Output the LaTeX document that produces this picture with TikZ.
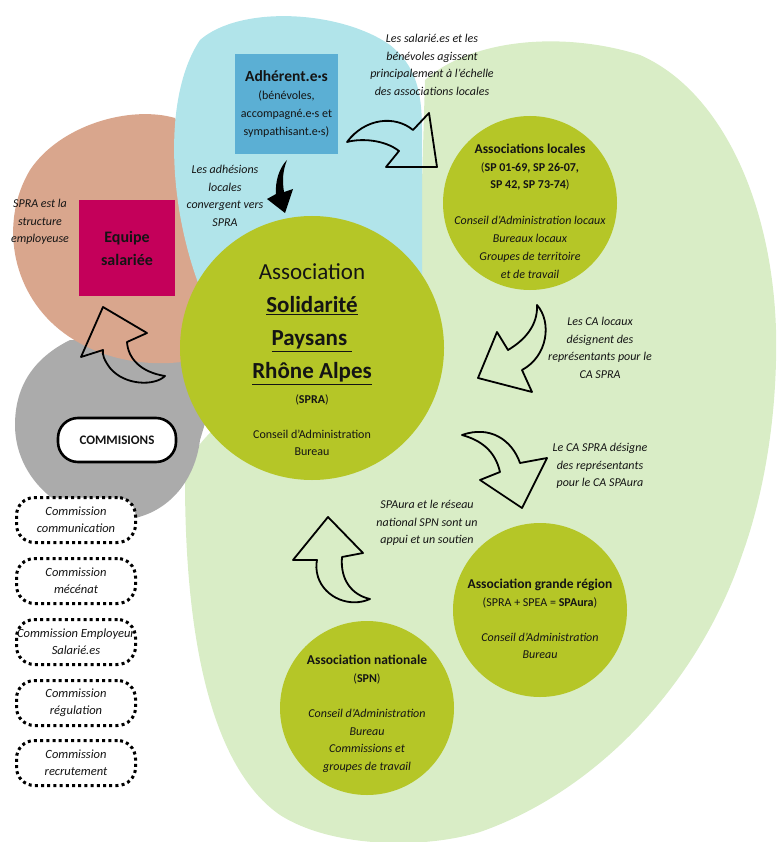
\documentclass[tikz,border=0pt]{standalone}
\usepackage{fontspec}
\setmainfont{Carlito}
\usetikzlibrary{positioning}

\definecolor{paleGreen}{RGB}{217,237,198}
\definecolor{skyBlue}{RGB}{177,228,234}
\definecolor{blobSalmon}{RGB}{217,166,141}
\definecolor{blobGrey}{RGB}{171,171,171}
\definecolor{spraGreen}{RGB}{181,198,39}
\definecolor{boxBlue}{RGB}{91,175,212}
\definecolor{boxMagenta}{RGB}{196,0,90}
\definecolor{ink}{RGB}{20,20,20}

\begin{document}
\begin{tikzpicture}
		[x=1pt, y=-1pt,
		asso/.style={circle, fill=spraGreen, inner sep=0pt},
		caption/.style={align=center, text=ink, font=\fontsize{12}{17.6}\selectfont\itshape},
		inside/.style={align=center, text=ink, font=\fontsize{12}{17.8}\selectfont},
		comm/.style={draw, fill=white, line width=3pt, dash pattern=on 3pt off 3.2pt, rounded corners=18pt, minimum width=119pt, minimum height=45pt, inner xsep=0pt, align=center, text=ink, font=\fontsize{12.5}{17}\selectfont\itshape},
		bigarrow/.style={draw=black, line width=1.8pt, line join=round}]
	
		\useasboundingbox (0,0) rectangle (776,842);
	
		% blobs %
		\fill[paleGreen] (425,80) .. controls (470,40) and (560,30) .. (640,55)
			.. controls (720,90) and (772,200) .. (776,330)
			.. controls (778,420) and (762,500) .. (742,555)
			.. controls (700,680) and (600,790) .. (480,832)
			.. controls (420,850) and (330,847) .. (280,815)
			.. controls (215,770) and (185,650) .. (185,480)
			.. controls (186,400) and (420,330) .. (420,250) -- cycle;
		\fill[blobGrey] (70,340) .. controls (40,355) and (15,380) .. (15,425)
			.. controls (15,485) and (75,530) .. (135,518)
			.. controls (170,510) and (195,480) .. (200,440) -- (230,340) -- cycle;
		\fill[blobSalmon] (175,118) .. controls (130,105) and (60,125) .. (30,170)
			.. controls (0,220) and (10,290) .. (60,330)
			.. controls (100,362) and (160,372) .. (215,355) -- (220,200) -- cycle;
		\fill[skyBlue] (205,300) .. controls (170,220) and (160,100) .. (200,40)
			.. controls (240,5) and (340,10) .. (390,45)
			.. controls (415,65) and (422,90) .. (422,130) -- (422,300) -- cycle;
	
		% nodes %
		\node[asso, minimum size=264pt] (spra) at (312,348) {};
		\node[asso, minimum size=174pt] (locales) at (530,203) {};
		\node[asso, minimum size=174pt] (region) at (540,610) {};
		\node[asso, minimum size=174pt] (spn) at (367,708) {};
	
		\node[align=center, text=ink, font=\fontsize{23}{33}\selectfont] (spratext) at ([yshift=-12pt]spra.center)
			{Association\\ \textbf{\underline{Solidarité}}\\ \textbf{\underline{Paysans\ }}\\ \textbf{\underline{Rhône Alpes}}\\[-8pt]
			{\fontsize{12}{14}\selectfont(\textbf{SPRA})}\\[2pt]
			{\fontsize{12}{14}\selectfont Conseil d’Administration}\\[-16pt]
			{\fontsize{12}{14}\selectfont Bureau}};
		\node[inside] (localestext) at ([yshift=-8pt]locales.center)
			{{\fontsize{13.5}{18}\selectfont\bfseries Associations locales}\\
			(\textbf{SP 01-69, SP 26-07,}\\ \textbf{SP 42, SP 73-74})\\[18pt]
			\textit{Conseil d’Administration locaux}\\ \textit{Bureaux locaux}\\
			\textit{Groupes de territoire}\\ \textit{et de travail}};
		\node[inside] (regiontext) at ([yshift=-9pt]region.center)
			{{\fontsize{13.5}{18}\selectfont\bfseries Association grande région}\\
			(SPRA + SPEA = \textbf{SPAura})\\[17pt]
			\textit{Conseil d’Administration}\\ \textit{Bureau}};
		\node[inside] (spntext) at ([yshift=-6pt]spn.center)
			{{\fontsize{13.5}{18}\selectfont\bfseries Association nationale}\\
			(\textbf{SPN})\\[17pt]
			\textit{Conseil d’Administration}\\ \textit{Bureau}\\
			\textit{Commissions et}\\ \textit{groupes de travail}};
	
		\node[fill=boxBlue, minimum width=103pt, minimum height=100pt, inner sep=0pt, inside] (adherents) at (286.5,104)
			{{\fontsize{15.5}{20}\selectfont\bfseries Adhérent.e·s}\\ (bénévoles,\\ accompagné.e·s et\\ sympathisant.e·s)};
		\node[fill=boxMagenta, minimum width=96pt, minimum height=96pt, inner sep=0pt, align=center, text=ink,
			font=\fontsize{16}{23}\selectfont\bfseries] (equipe) at (127,248) {Equipe\\ salariée};
	
		\node[draw, fill=white, line width=2.6pt, rounded corners=20pt, minimum width=118pt, minimum height=44pt,
			text=ink, font=\fontsize{13}{14}\selectfont\bfseries] (commisions) at (117,440) {COMMISIONS};
	
		\node[comm] (communication) at (76,520) {Commission\\ communication};
		\node[comm] (mecenat) at (76,581) {Commission\\ mécénat};
		\node[comm] (employeur) at (76,642) {Commission Employeur\\ Salarié.es};
		\node[comm] (regulation) at (76,703) {Commission\\ régulation};
		\node[comm] (recrutement) at (76,763) {Commission\\ recrutement};
	
		% captions %
		\node[caption] (echelle) at (432,65) {Les salarié.es et les\\ bénévoles agissent\\ principalement à l’échelle\\ des associations locales};
		\node[caption] (adhesions) at (225,196) {Les adhésions\\ locales\\ convergent vers\\ SPRA};
		\node[caption] (employeuse) at (40,222) {SPRA est la\\ structure\\ employeuse};
		\node[caption] (calocaux) at (600,348) {Les CA locaux\\ désignent des\\ représentants pour le\\ CA SPRA};
		\node[caption] (caspra) at (600,466) {Le CA SPRA désigne\\ des représentants\\ pour le CA SPAura};
		\node[caption] (soutien) at (427,523) {SPAura et le réseau\\ national SPN sont un\\ appui et un soutien};
	
		% arrows %
		\draw[bigarrow] (347,142) .. controls (365,118) and (395,115) .. (413,130) -- (429,113) -- (437,167) -- (386,167)
			-- (399,151) .. controls (385,140) and (362,138) .. cycle;
		\fill[black] (287,160) .. controls (279,168) and (275,182) .. (276,194) -- (267,199) -- (285,213) -- (293,189)
			-- (284,192) .. controls (282,180) and (283,170) .. cycle;
		\draw[bigarrow] (103,307) -- (147,333) -- (127,342) .. controls (128,358) and (140,372) .. (165,376)
			.. controls (155,386) and (125,386) .. (110,368) .. controls (104,360) and (102,354) .. (103,350) -- (81,357) -- cycle;
		\draw[bigarrow] (537,305) .. controls (552,322) and (548,356) .. (522,370) -- (532,392) -- (478,378) -- (497,332)
			-- (508,350) .. controls (525,340) and (538,325) .. cycle;
		\draw[bigarrow] (462,435) .. controls (490,425) and (512,440) .. (520,463) -- (547,458) -- (522,508) -- (480,480)
			-- (500,472) .. controls (495,450) and (480,440) .. cycle;
		\draw[bigarrow] (328,517) -- (363,553) -- (342,557) .. controls (340,580) and (352,595) .. (370,599)
			.. controls (350,608) and (325,598) .. (318,577) .. controls (316,570) and (316,565) .. (317,560) -- (293,560) -- cycle;
	
		\end{tikzpicture}
\end{document}
